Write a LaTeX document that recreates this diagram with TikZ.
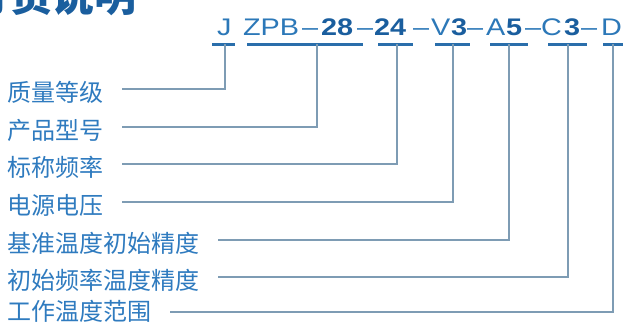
\documentclass[tikz,border=0pt]{standalone}
\usepackage{fontspec}
\setmainfont{Liberation Sans}
\newfontfamily\cjk{Noto Sans CJK SC}
\newfontfamily\codefont[FakeStretch=1.2]{Liberation Sans}
\usetikzlibrary{positioning}
\definecolor{labelblue}{HTML}{2F7BBF}
\definecolor{codeblue}{HTML}{2C78B8}
\definecolor{boldblue}{HTML}{1A5E9E}
\definecolor{wireblue}{HTML}{7E9CB4}
\definecolor{barblue}{HTML}{2A6EAB}

\begin{document}
\begin{tikzpicture}[x=1pt, y=-1pt]
                        % q = label on the left, t = top end of its wire (on the bar)
                        \tikzstyle{every node}=[inner sep=0pt, outer sep=0pt]
                        \tikzstyle{lbl}=[anchor=west, text=labelblue, font=\cjk\fontsize{24}{24}\selectfont]
                        \tikzstyle{code}=[anchor=base west, text=codeblue, font=\codefont\fontsize{24}{24}\selectfont]
                        \tikzstyle{codeb}=[code, text=boldblue, font=\codefont\bfseries\fontsize{24}{24}\selectfont]
                        \tikzstyle{bar}=[barblue, line width=3pt]
                        \tikzstyle{wire}=[wireblue, line width=1.4pt]

                        \useasboundingbox (0,0) rectangle (623,325);
                        \clip (0,0) rectangle (623,325);
                        \fill[white] (0,0) rectangle (623,325);

                        % title, cut by the top edge
                        \node[anchor=west, text=boldblue, font=\cjk\bfseries\fontsize{42}{42}\selectfont] (title) at (-31,-5) {订货说明};

                        % the code
                        \foreach \x/\t/\s in {217/J/code, 243/ZPB/code, 302/–/code, 321/28/codeb,
                                              357/–/code, 374/24/codeb, 413/–/code, 431/V/code,
                                              451/3/codeb, 467/–/code, 486/A/code, 506/5/codeb,
                                              525/–/code, 541/C/code, 564/3/codeb, 581/–/code,
                                              601/D/code}
                                \node[\s] at (\x,35) {\t};

                        % bars under the code
                        \draw[bar] (212,44) -- (235,44);
                        \draw[bar] (247,44) -- (363,44);
                        \draw[bar] (378,44) -- (413,44);
                        \draw[bar] (435,44) -- (470,44);
                        \draw[bar] (490,44) -- (528,44);
                        \draw[bar] (548,44) -- (587,44);
                        \draw[bar] (603,44) -- (625,44);

                        % labels and wires (dy = label below its wire)
                        \foreach \i/\y/\dy/\xv/\t in {1/89/3/225/质量等级, 2/127/3/317/产品型号,
                                                      3/164/3/397/标称频率, 4/202/3/453/电源电压,
                                                      5/240/3/509/基准温度初始精度, 6/277/3/568/初始频率温度精度,
                                                      7/312/-1/613/工作温度范围}
                        {
                                \node[lbl] (q\i) at (7,\y+\dy) {\t};
                                \coordinate (t\i) at (\xv,44);
                                \draw[wire] ([xshift=19pt, yshift=\dy pt]q\i.east) -| (t\i);
                        }
\end{tikzpicture}
\end{document}
